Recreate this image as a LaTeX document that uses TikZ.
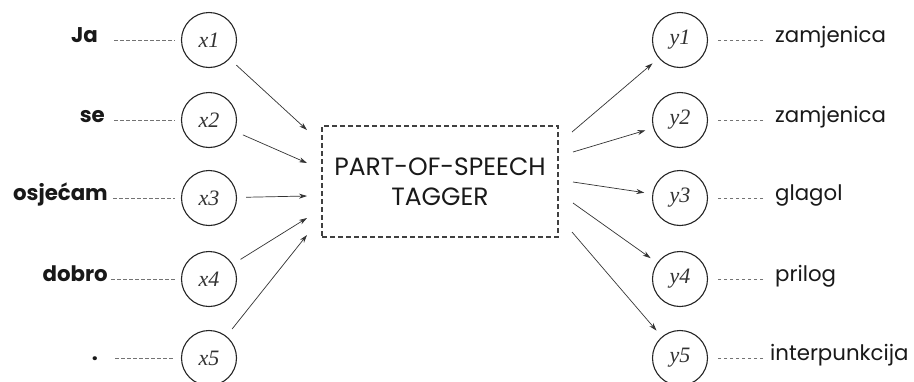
\documentclass[tikz,border=0pt]{standalone}
\usepackage{fontspec}
\setmainfont{Poppins}
\newfontfamily\varfont{Liberation Serif}
\usetikzlibrary{arrows.meta}
\begin{document}
\begin{tikzpicture}[x=1pt,y=-1pt,
 var/.style={circle,draw=black!85,line width=1.1pt,minimum size=55pt,inner sep=0pt,font=\varfont\itshape\fontsize{22}{22}\selectfont,text=black!80},
 word/.style={font=\bfseries\fontsize{21.3}{21.3}\selectfont,text=black!90,anchor=mid east,inner sep=0pt},
 tag/.style={font=\fontsize{21.3}{21.3}\selectfont,text=black!90,anchor=mid west,inner sep=0pt},
 dotline/.style={draw=black!55,line width=0.7pt,dash pattern=on 3.5pt off 2.5pt},
 arr/.style={draw=black!80,line width=0.7pt,-{Stealth[length=8pt,width=5pt]}},
 tagger/.style={draw=black!75,line width=1.2pt,dash pattern=on 5pt off 3pt,minimum width=236pt,minimum height=111pt,align=center,font=\fontsize{25}{30}\selectfont,text=black!90}]
\useasboundingbox (0,0) rectangle (914,381);
\fill[white] (0,0) rectangle (914,381);

% tagger box
\node[tagger] (box) at (440,181.5) {PART-OF-SPEECH\\TAGGER};

% input variables
\node[var] (x1) at (209,40) {x1};
\node[var] (x2) at (209,120) {x2};
\node[var] (x3) at (209,198) {x3};
\node[var] (x4) at (209,279) {x4};
\node[var] (x5) at (209,358) {x5};

% output variables
\node[var] (y1) at (680,40) {y1};
\node[var] (y2) at (680,120) {y2};
\node[var] (y3) at (680,198) {y3};
\node[var] (y4) at (680,279) {y4};
\node[var] (y5) at (680,358) {y5};

% words
\node[word] (w1) at (98,40) {Ja};
\node[word] (w2) at (105,120) {se};
\node[word] (w3) at (108,198) {osjećam};
\node[word] (w4) at (108,279) {dobro};
\node[word] (w5) at (98,358) {.};

% tags
\node[tag] (t1) at (775,40) {zamjenica};
\node[tag] (t2) at (775,120) {zamjenica};
\node[tag] (t3) at (775,198) {glagol};
\node[tag] (t4) at (775,279) {prilog};
\node[tag] (t5) at (770,358) {interpunkcija};

% dotted link start points
\coordinate (dl1) at (114,40);
\coordinate (dl2) at (114,120);
\coordinate (dl3) at (113,198);
\coordinate (dl4) at (111,279);
\coordinate (dl5) at (115,358);
\coordinate (dr1) at (763,40);
\coordinate (dr2) at (763,120);
\coordinate (dr3) at (763,198);
\coordinate (dr4) at (763,279);
\coordinate (dr5) at (763,358);
\foreach \i in {1,...,5}{
  \draw[dotline,shorten >=6pt] (dl\i) -- (x\i);
  \draw[dotline,shorten >=7pt] (dr\i) -- (y\i);
}

% arrow targets at the box
\coordinate (in1) at (307,130);
\coordinate (in2) at (307,163);
\coordinate (in3) at (307,196);
\coordinate (in4) at (307,218);
\coordinate (in5) at (307,235);
\coordinate (out1) at (572,132);
\coordinate (out2) at (573,152);
\coordinate (out3) at (573,182);
\coordinate (out4) at (573,203);
\coordinate (out5) at (572,232);
\foreach \i in {1,...,5}{
  \draw[arr,shorten <=9pt] (x\i) -- (in\i);
  \draw[arr,shorten >=8pt] (out\i) -- (y\i);
}
\end{tikzpicture}
\end{document}
